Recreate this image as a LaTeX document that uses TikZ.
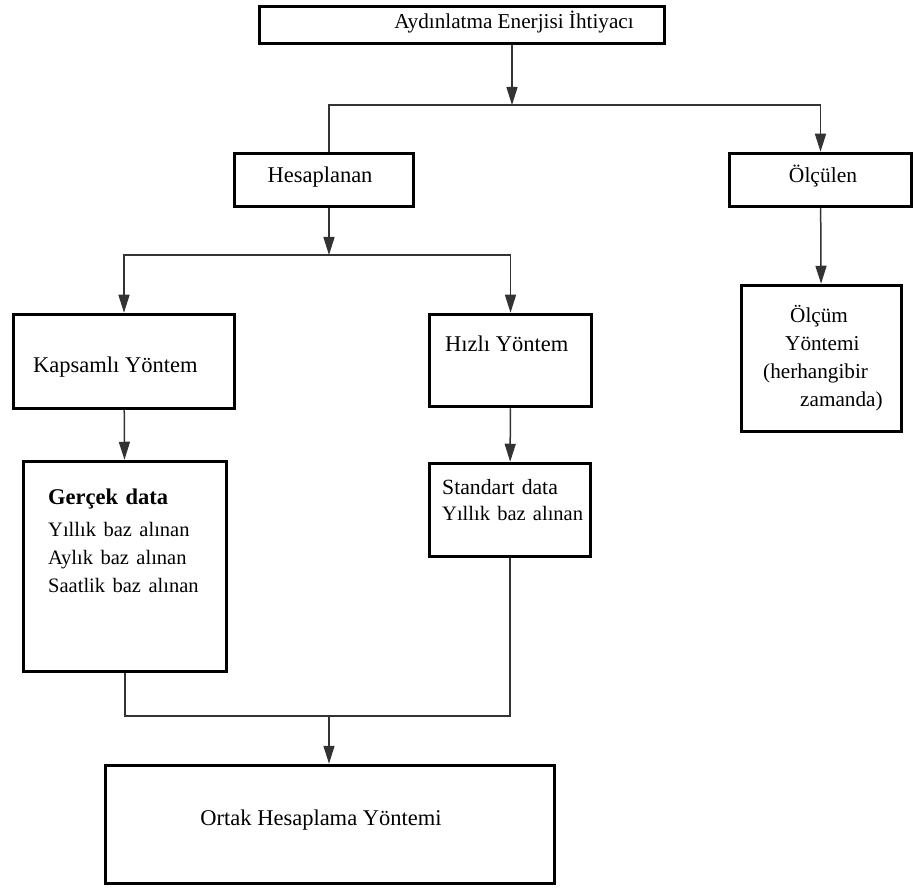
\documentclass[tikz,border=0pt]{standalone}
\usepackage{fontspec}
\setmainfont{Liberation Serif}
\usepackage{tikz}
\usetikzlibrary{positioning, calc, arrows.meta}
\newcommand{\datafont}{\fontsize{20.5}{28}\selectfont}

\begin{document}
\begin{tikzpicture}[x=1pt, y=-1pt, >={Triangle[length=18pt, width=11pt]},
	box/.style={draw, line width=3.5pt, inner sep=0pt},
	txt/.style={inner sep=0pt, font=\fontsize{22.5}{28}\selectfont},
	conn/.style={draw=black!80, line width=1.5pt}]
	\useasboundingbox (0,0) rectangle (915,890);

	% kutular
	\node[box, minimum width=405, minimum height=37]	(ihtiyac)	at (462,25)		{};
	\node[box, minimum width=179, minimum height=53]	(hes)		at (324,180)	{};
	\node[box, minimum width=182, minimum height=53]	(olc)		at (820.5,180)	{};
	\node[box, minimum width=221, minimum height=94]	(kap)		at (124,361.5)	{};
	\node[box, minimum width=162, minimum height=92]	(hiz)		at (510.5,360.5){};
	\node[box, minimum width=160, minimum height=146]	(olcum)		at (821.5,358.5){};
	\node[box, minimum width=203, minimum height=210]	(gercek)	at (125,566.5)	{};
	\node[box, minimum width=161, minimum height=93]	(std)		at (510,510)	{};
	\node[box, minimum width=449, minimum height=118]	(ortak)		at (330,824.5)	{};

	% yazilar
	\node[txt, anchor=base, font=\fontsize{21.2}{28}\selectfont] (ihtiyac-t) at (514,29) {Aydınlatma Enerjisi İhtiyacı};
	\node[txt, anchor=base]			(hes-t)		at (320,183)	{Hesaplanan};
	\node[txt, anchor=base, font=\fontsize{21.5}{28}\selectfont] (olc-t) at (823,183) {Ölçülen};
	\node[txt, anchor=base west]	(kap-t)		at (33,372)		{Kapsamlı Yöntem};
	\node[txt, anchor=base west]	(hiz-t)		at (445,352)	{Hızlı Yöntem};
	\node[txt, anchor=base west, text width=220, align=left] (gercek-t) at (48,504)
		{\textbf{Gerçek data}\\[4pt] {\datafont Yıllık baz alınan}\\ {\datafont Aylık baz alınan}\\ {\datafont Saatlik baz alınan}};
	\node[txt, anchor=base west, text width=220, align=left, font=\fontsize{21.7}{26}\selectfont] (std-t) at (442,494)
		{Standart data\\ {\datafont Yıllık baz alınan}};
	\node[txt, anchor=base west, text width=220, align=left, font=\fontsize{21.2}{28}\selectfont] (olcum-t) at (763,323)
		{\hspace*{27pt}Ölçüm\\ \hspace*{22pt}Yöntemi\\ (herhangibir\\ \hspace*{37pt}zamanda)};
	\node[txt, anchor=base]			(ortak-t)	at (321,825)	{Ortak Hesaplama Yöntemi};

	% baglantilar
	\coordinate (ayir1) at (512,105);
	\coordinate (sol1) at (329,105);
	\coordinate (ayir2) at (329,255);
	\coordinate (birles) at (329,716);
	\path[conn, ->] (ihtiyac.south -| ayir1) -- (ayir1);
	\path[conn] (ayir1) -- (sol1) -- (hes.north -| sol1);
	\path[conn, ->] (ayir1) -| (olc.north);
	\path[conn, ->] (hes.south -| ayir2) -- (ayir2);
	\path[conn, ->] (ayir2) -| (kap.north);
	\path[conn, ->] (ayir2) -| (hiz.north);
	\path[conn, ->] (olc) -- (olcum);
	\path[conn, ->] (kap) -- (gercek);
	\path[conn, ->] (hiz) -- (std);
	\path[conn] (gercek.south) |- (birles) -| (std.south);
	\path[conn, ->] (birles) -- (ortak.north -| birles);
\end{tikzpicture}
\end{document}
